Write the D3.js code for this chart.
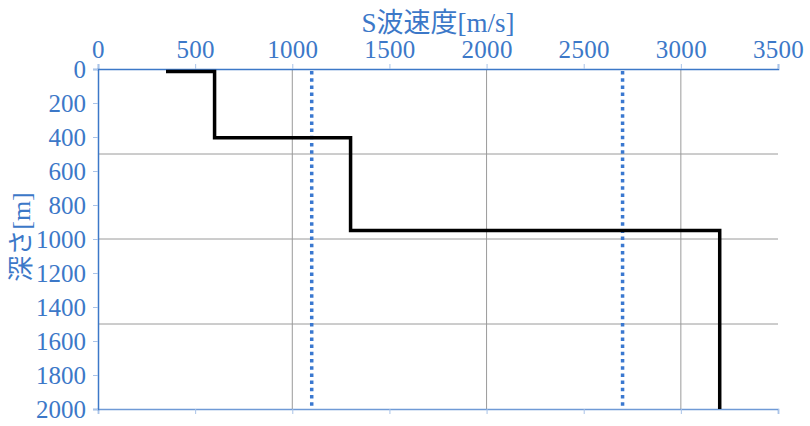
<!DOCTYPE html>
<html><head><meta charset="utf-8">
<script src="https://cdn.jsdelivr.net/npm/d3@7"></script>
<style>
body{margin:0;background:#fff;}
svg text{font-family:"Liberation Serif","Times New Roman",Times,"DejaVu Serif","Noto Sans CJK JP",serif !important;}
</style></head>
<body><svg id="c" width="810" height="426"></svg>
<script>
const profileVelocity = [350, 600, 600, 1300, 1300, 3200, 3200];
const profileDepth    = [15, 15, 405, 405, 950, 950, 2000];
const refVelocities   = [1100, 2700];
const xTicks = [0, 500, 1000, 1500, 2000, 2500, 3000, 3500];
const yTicks = [0, 200, 400, 600, 800, 1000, 1200, 1400, 1600, 1800, 2000];
const xGrid = [1000, 2000, 3000];
const yGrid = [500, 1000, 1500];
const xTitle = "S波速度[m/s]";
const yTitle = "深さ[m]";

const svg = d3.select("#c");
const L = 98, R = 778, T = 69, B = 409;
const x = d3.scaleLinear().domain([0, 3500]).range([L, R]);
const y = d3.scaleLinear().domain([0, 2000]).range([T, B]);
const blue = "#3C78C8";

// grid
svg.append("g").selectAll("line").data(xGrid).join("line")
  .attr("x1", d => x(d)).attr("x2", d => x(d)).attr("y1", T).attr("y2", B)
  .attr("stroke", "#9a9a9a").attr("stroke-width", 1);
svg.append("g").selectAll("line").data(yGrid).join("line")
  .attr("x1", L).attr("x2", R).attr("y1", d => y(d)).attr("y2", d => y(d))
  .attr("stroke", "#9a9a9a").attr("stroke-width", 1);

// bottom axis (ticks only)
const bAx = svg.append("g").attr("transform", `translate(0,${B})`)
  .call(d3.axisBottom(x).tickValues(xTicks).tickSize(5).tickFormat(""));
bAx.select(".domain").attr("stroke", "#6f9ad6").attr("stroke-width", 1.5);
bAx.selectAll(".tick line").attr("stroke", "#a9c3e8");

// top axis
const tAx = svg.append("g").attr("transform", `translate(0,${T})`)
  .call(d3.axisTop(x).tickValues(xTicks).tickSize(5).tickPadding(6).tickFormat(d3.format("d")));
tAx.attr("font-family", null).attr("font-size", null);
tAx.select(".domain").attr("stroke", blue).attr("stroke-width", 1.5);
tAx.selectAll(".tick line").attr("stroke", "#a9c3e8");
tAx.selectAll(".tick text").attr("fill", blue).style("font-size", "25px").style("letter-spacing", "0.3px");

// left axis
const lAx = svg.append("g").attr("transform", `translate(${L},0)`)
  .call(d3.axisLeft(y).tickValues(yTicks).tickSize(5).tickPadding(7).tickFormat(d3.format("d")));
lAx.attr("font-family", null).attr("font-size", null);
lAx.select(".domain").attr("stroke", blue).attr("stroke-width", 1.5);
lAx.selectAll(".tick line").attr("stroke", "#a9c3e8");
lAx.selectAll(".tick text").attr("fill", blue).style("font-size", "25px").attr("dy", "0.33em");

// reference dotted lines
svg.append("g").selectAll("line").data(refVelocities).join("line")
  .attr("x1", d => x(d)).attr("x2", d => x(d)).attr("y1", y(0) + 2).attr("y2", y(2000))
  .attr("stroke", "#3a78d0").attr("stroke-width", 3.5).attr("stroke-dasharray", "3.5,3.7");

// profile
const pts = profileVelocity.map((v, i) => [v, profileDepth[i]]);
svg.append("path").datum(pts)
  .attr("d", d3.line().x(d => x(d[0])).y(d => y(d[1])))
  .attr("fill", "none").attr("stroke", "#000").attr("stroke-width", 3.5)
  .attr("stroke-linejoin", "miter").attr("stroke-linecap", "butt");

// titles
svg.append("text").attr("x", 438).attr("y", 32).attr("text-anchor", "middle")
  .attr("fill", blue).style("font-size", "27px").text(xTitle);
svg.append("text").attr("transform", "translate(30,237) rotate(-90)").attr("text-anchor", "middle")
  .attr("fill", blue).style("font-size", "26px").text(yTitle);
</script></body></html>
